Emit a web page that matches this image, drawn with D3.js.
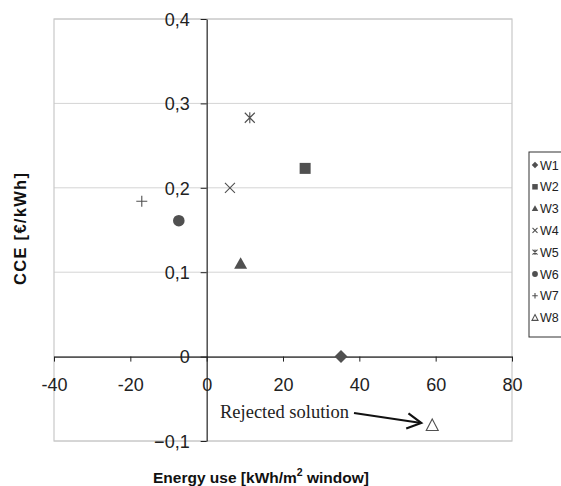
<!DOCTYPE html>
<html><head><meta charset="utf-8">
<script src="https://cdn.jsdelivr.net/npm/d3@7"></script>
<style>body{margin:0;background:#fff}svg{display:block}</style>
</head><body><svg id="c" width="561" height="486"></svg>
<script>
const series = ["W1","W2","W3","W4","W5","W6","W7","W8"];
const energy = [35.2, 25.8, 8.9, 6.1, 11.3, -7.3, -17.0, 59.1];
const cce = [0.0, 0.223, 0.110, 0.200, 0.283, 0.161, 0.184, -0.081];
const symbols = ["diamond","square","triangle","x","asterisk","circle","plus","triangleOpen"];
const xTicks = [-40,-20,0,20,40,60,80];
const yTicks = [-0.1,0,0.1,0.2,0.3,0.4];
const xLabel = "Energy use [kWh/m";
const yLabel = "CCE [€/kWh]";
const annotation = "Rejected solution";

const svg = d3.select("#c");
const x = d3.scaleLinear().domain([-40,80]).range([54,512]);
const y = d3.scaleLinear().domain([-0.1,0.4]).range([441,19]);
const col = "#505050";
const sans = "Liberation Sans, Arial, sans-serif";

// gridlines
svg.append("g").selectAll("line").data(yTicks).join("line")
  .attr("x1",x(-40)).attr("x2",x(80)).attr("y1",d=>y(d)).attr("y2",d=>y(d))
  .attr("stroke","#d4d4d4").attr("stroke-width",1);
// plot border
svg.append("rect").attr("x",x(-40)).attr("y",y(0.4)).attr("width",x(80)-x(-40)).attr("height",y(-0.1)-y(0.4))
  .attr("fill","none").attr("stroke","#c8c8c8").attr("stroke-width",1.2);

// x axis at y=0
const xa = svg.append("g").attr("transform",`translate(0,${y(0)})`)
  .call(d3.axisBottom(x).tickValues(xTicks).tickSize(5).tickSizeOuter(0).tickFormat(d=>d===0?"0":d));
xa.select(".domain").attr("stroke","#222").attr("stroke-width",1.2);
xa.selectAll(".tick line").attr("stroke","#222");
xa.selectAll("text").attr("font-family",sans).attr("font-size",18).attr("fill","#222").attr("y",34).attr("dy",0);

// y axis at x=0
const ya = svg.append("g").attr("transform",`translate(${x(0)},0)`)
  .call(d3.axisLeft(y).tickValues(yTicks).tickSize(6).tickSizeOuter(0).tickFormat(d=>Math.abs(d)<1e-9?"0":d3.format(".1f")(d).replace(".",",")));
ya.select(".domain").attr("stroke","#222").attr("stroke-width",1.2);
ya.selectAll(".tick line").attr("stroke","#222");
ya.selectAll("text").attr("font-family",sans).attr("font-size",18).attr("fill","#222").attr("x",-17).attr("dy","0.35em");

// symbol drawing
function drawSym(g, s, cx, cy, k){
  const t = `translate(${cx},${cy})`;
  if(s==="diamond") g.append("path").attr("d",`M0,${-6.5*k}L${6.5*k},0L0,${6.5*k}L${-6.5*k},0Z`).attr("transform",t).attr("fill",col);
  else if(s==="square") g.append("rect").attr("x",cx-5.5*k).attr("y",cy-5.5*k).attr("width",11*k).attr("height",11*k).attr("fill",col);
  else if(s==="triangle") g.append("path").attr("d",`M0,${-6.5*k}L${6.5*k},${5*k}L${-6.5*k},${5*k}Z`).attr("transform",t).attr("fill",col);
  else if(s==="triangleOpen") g.append("path").attr("d",`M0,${-6*k}L${6*k},${5.5*k}L${-6*k},${5.5*k}Z`).attr("transform",t).attr("fill","none").attr("stroke",col).attr("stroke-width",1.1);
  else if(s==="circle") g.append("circle").attr("cx",cx).attr("cy",cy).attr("r",5.8*k).attr("fill",col);
  else if(s==="x") g.append("path").attr("d",`M${-5*k},${-5*k}L${5*k},${5*k}M${5*k},${-5*k}L${-5*k},${5*k}`).attr("transform",t).attr("stroke",col).attr("stroke-width",1.1);
  else if(s==="plus") g.append("path").attr("d",`M${-5.5*k},0L${5.5*k},0M0,${-5.5*k}L0,${5.5*k}`).attr("transform",t).attr("stroke",col).attr("stroke-width",1.1);
  else if(s==="asterisk") g.append("path").attr("d",`M${-5*k},${-5*k}L${5*k},${5*k}M${5*k},${-5*k}L${-5*k},${5*k}M0,${-5.5*k}L0,${5.5*k}`).attr("transform",t).attr("stroke",col).attr("stroke-width",1.1);
}
const pts = svg.append("g");
series.forEach((s,i)=>drawSym(pts, symbols[i], x(energy[i]), y(cce[i]), 1));

// annotation
svg.append("text").attr("x",220).attr("y",418).attr("font-family","Liberation Serif, Times New Roman, serif")
  .attr("font-size",18.5).attr("fill","#222").text(annotation);
const ax1 = 354, ay1 = 413, ax2 = x(energy[7]) - 11, ay2 = y(cce[7]) - 2;
svg.append("line").attr("x1",ax1).attr("y1",ay1).attr("x2",ax2).attr("y2",ay2).attr("stroke","#111").attr("stroke-width",2.2);
const ang = Math.atan2(ay2-ay1, ax2-ax1), L=16, sp=0.5;
svg.append("path").attr("d",`M${ax2-L*Math.cos(ang-sp)},${ay2-L*Math.sin(ang-sp)}L${ax2},${ay2}L${ax2-L*Math.cos(ang+sp)},${ay2-L*Math.sin(ang+sp)}`)
  .attr("fill","none").attr("stroke","#111").attr("stroke-width",2.2);

// axis titles
svg.append("text").attr("transform","translate(26,229) rotate(-90)").attr("text-anchor","middle")
  .attr("font-family",sans).attr("font-weight","bold").attr("font-size",16.5).attr("fill","#111")
  .attr("textLength",112).attr("lengthAdjust","spacing").text(yLabel);
const xt = svg.append("text").attr("x",153).attr("y",483)
  .attr("font-family",sans).attr("font-weight","bold").attr("font-size",15.5).attr("fill","#111");
xt.append("tspan").text(xLabel);
xt.append("tspan").attr("dy",-7).attr("font-size",10.5).text("2");
xt.append("tspan").attr("dy",7).text(" window]");

// legend
const lg = svg.append("g");
lg.append("rect").attr("x",529).attr("y",152).attr("width",40).attr("height",185).attr("fill","#fff").attr("stroke","#333").attr("stroke-width",1);
series.forEach((s,i)=>{
  const yy = 165 + i*21.8;
  drawSym(lg, symbols[i], 535, yy, 0.5);
  lg.append("text").attr("x",540).attr("y",yy).attr("dy","0.36em").attr("font-family",sans)
    .attr("font-size",12.5).attr("fill","#222").text(s);
});
</script></body></html>
